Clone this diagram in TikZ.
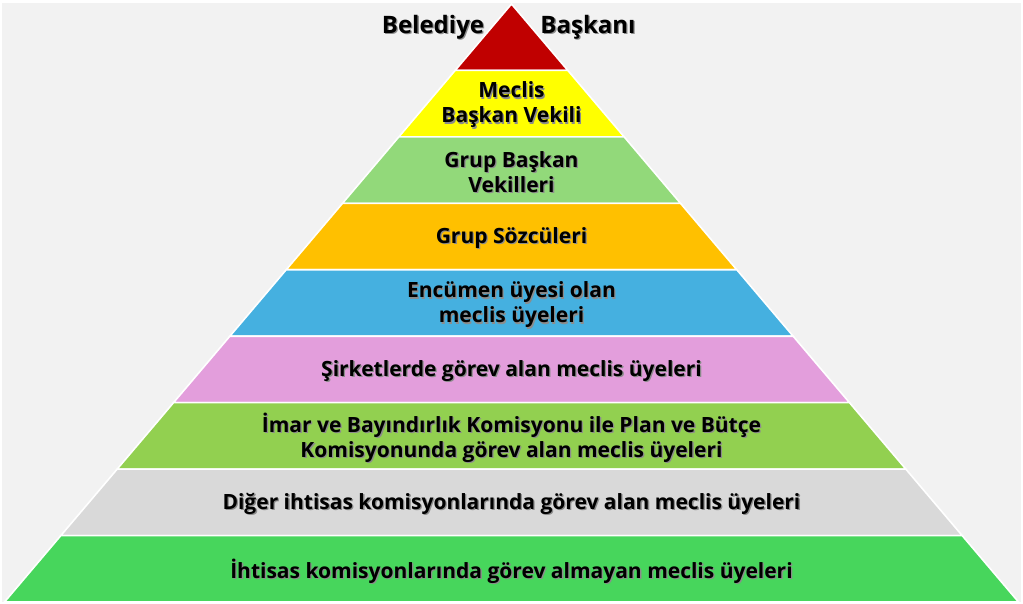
\documentclass[tikz,border=0pt]{standalone}
\usepackage{fontspec}
\setmainfont{Open Sans}
\definecolor{cBg}{HTML}{F2F2F2}
\definecolor{cRed}{HTML}{C00000}
\definecolor{cYel}{HTML}{FFFF00}
\definecolor{cLg}{HTML}{92D97A}
\definecolor{cOr}{HTML}{FFC000}
\definecolor{cBl}{HTML}{45B0E0}
\definecolor{cPk}{HTML}{E39EDC}
\definecolor{cGr}{HTML}{92D050}
\definecolor{cGy}{HTML}{D9D9D9}
\definecolor{cGn}{HTML}{47D65C}
\tikzset{
  lbl/.style={font=\bfseries\fontsize{21}{25}\selectfont, align=center, inner sep=0pt, text=black},
  shd/.style={text=black!45},
  big/.style={font=\bfseries\fontsize{24}{28}\selectfont},
}
\newcommand{\shlabel}[4][]{%
  \node[lbl,#1,shd] (#2s) at (#3) [xshift=1.3pt,yshift=-3.3pt] {#4};
  \node[lbl,#1] (#2) at (#3) [yshift=-2pt] {#4};}
\begin{document}
\begin{tikzpicture}[x=1pt,y=-1pt]
\useasboundingbox (0,0) rectangle (1023,604);
\fill[white] (0,0) rectangle (1023,604);
\fill[cBg] (2,3) rectangle (1021,602);
\def\ax{511.5}\def\ay{4}\def\sl{0.8478}\def\bh{66.444}
\foreach \i/\col in {0/cRed,1/cYel,2/cLg,3/cOr,4/cBl,5/cPk,6/cGr,7/cGy,8/cGn}{
  \pgfmathsetmacro\yt{\ay+\i*\bh}
  \pgfmathsetmacro\yb{\ay+(\i+1)*\bh}
  \pgfmathsetmacro\wt{\sl*(\yt-\ay)}
  \pgfmathsetmacro\wb{\sl*(\yb-\ay)}
  \filldraw[fill=\col,draw=white,line width=1.6pt,line join=miter]
    ({\ax-\wt},\yt) -- ({\ax+\wt},\yt) -- ({\ax+\wb},\yb) -- ({\ax-\wb},\yb) -- cycle;
}
\shlabel[big]{bel}{433,25}{Belediye}
\shlabel[big]{bas}{588,25}{Başkanı}
\shlabel{l1}{511.5,103}{Meclis\\Başkan Vekili}
\shlabel{l2}{511.5,170}{Grup Başkan\\Vekilleri}
\shlabel{l3}{511.5,236}{Grup Sözcüleri}
\shlabel{l4}{511.5,303}{Encümen üyesi olan\\meclis üyeleri}
\shlabel{l5}{511.5,369}{Şirketlerde görev alan meclis üyeleri}
\shlabel{l6}{511.5,436}{İmar ve Bayındırlık Komisyonu ile Plan ve Bütçe\\Komisyonunda görev alan meclis üyeleri}
\shlabel{l7}{511.5,502}{Diğer ihtisas komisyonlarında görev alan meclis üyeleri}
\shlabel{l8}{511.5,569}{İhtisas komisyonlarında görev almayan meclis üyeleri}
\end{tikzpicture}
\end{document}
